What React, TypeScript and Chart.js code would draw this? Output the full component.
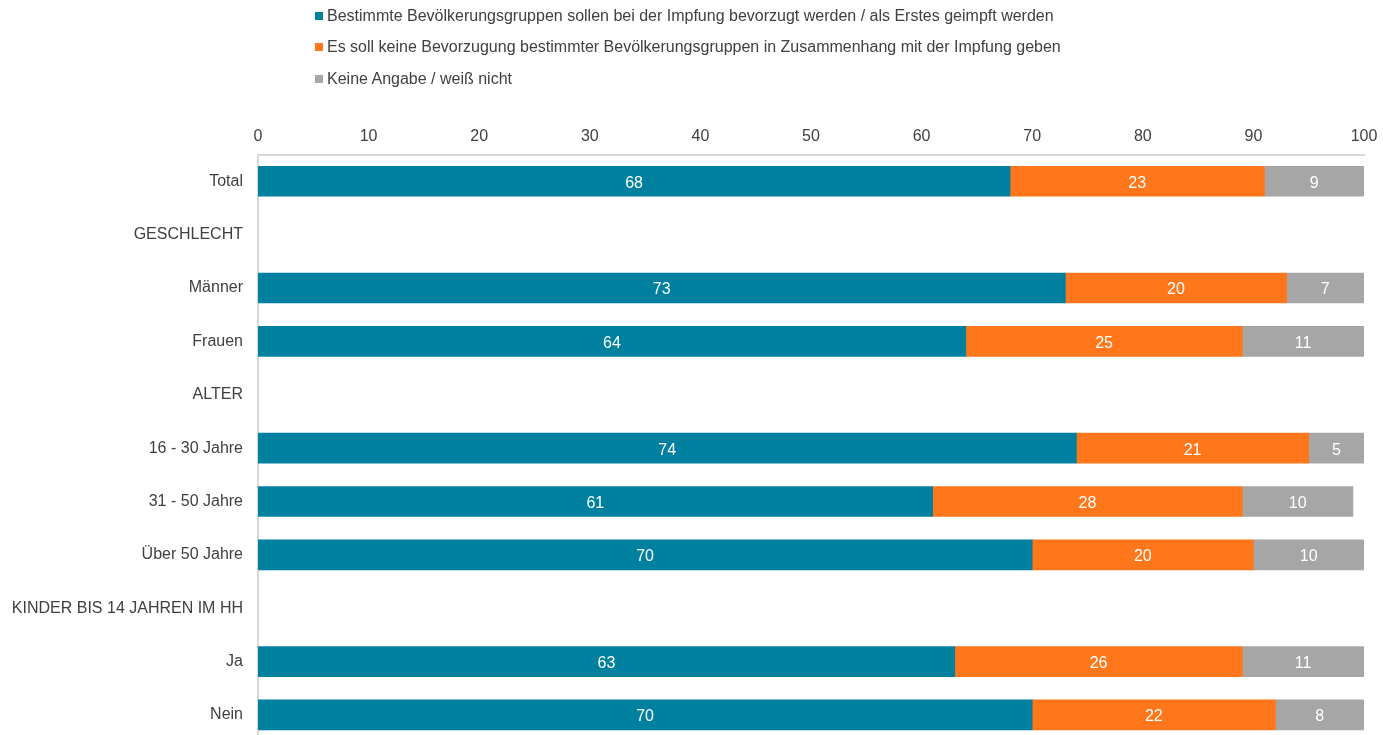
import React, { useEffect, useRef } from "react";
import { Chart, registerables } from "chart.js";

Chart.register(...registerables);

const categories = [
  "Total",
  "GESCHLECHT",
  "Männer",
  "Frauen",
  "ALTER",
  "16 - 30 Jahre",
  "31 - 50 Jahre",
  "Über 50 Jahre",
  "KINDER BIS 14 JAHREN IM HH",
  "Ja",
  "Nein",
];

const seriesNames = [
  "Bestimmte Bevölkerungsgruppen sollen bei der Impfung bevorzugt werden / als Erstes geimpft werden",
  "Es soll keine Bevorzugung bestimmter Bevölkerungsgruppen in Zusammenhang mit der Impfung geben",
  "Keine Angabe / weiß nicht",
];

const seriesBevorzugt = [68, null, 73, 64, null, 74, 61, 70, null, 63, 70];
const seriesKeineBevorzugung = [23, null, 20, 25, null, 21, 28, 20, null, 26, 22];
const seriesWeissNicht = [9, null, 7, 11, null, 5, 10, 10, null, 11, 8];

const xTicks = [0, 10, 20, 30, 40, 50, 60, 70, 80, 90, 100];

const colors = ["#00809F", "#FF761B", "#A6A6A6"];

const FONT = "'Liberation Sans', Arial, sans-serif";
const TEXT = "#404040";

const labelPlugin = {
  id: "segLabels",
  afterDatasetsDraw(chart: any) {
    const ctx = chart.ctx;
    ctx.save();
    ctx.font = `16px ${FONT}`;
    ctx.fillStyle = "#ffffff";
    ctx.textAlign = "center";
    ctx.textBaseline = "middle";
    chart.data.datasets.forEach((ds: any, di: number) => {
      const meta = chart.getDatasetMeta(di);
      meta.data.forEach((el: any, i: number) => {
        const v = ds.data[i];
        if (v === null || v === undefined) return;
        const p = el.getProps(["x", "y", "base"], true);
        ctx.fillText(String(v), (p.x + p.base) / 2, p.y + 2);
      });
    });
    ctx.restore();
  },
};

export default function App() {
  const ref = useRef<HTMLCanvasElement | null>(null);

  useEffect(() => {
    if (!ref.current) return;
    const chart = new Chart(ref.current, {
      type: "bar",
      data: {
        labels: categories,
        datasets: [
          { label: seriesNames[0], data: seriesBevorzugt, backgroundColor: colors[0] },
          { label: seriesNames[1], data: seriesKeineBevorzugung, backgroundColor: colors[1] },
          { label: seriesNames[2], data: seriesWeissNicht, backgroundColor: colors[2] },
        ] as any,
      },
      options: {
        indexAxis: "y",
        animation: false,
        responsive: false,
        maintainAspectRatio: false,
        layout: { padding: { top: 0, right: 19, bottom: 3.4, left: 0 } },
        datasets: { bar: { barThickness: 30, borderWidth: 0 } } as any,
        plugins: {
          legend: { display: false },
          tooltip: { enabled: false },
        },
        scales: {
          x: {
            position: "top",
            stacked: true,
            min: 0,
            max: 100,
            afterBuildTicks: (s: any) => {
              s.ticks = xTicks.map((v) => ({ value: v }));
            },
            afterFit: (s: any) => {
              s.height = 154.6;
              s.paddingLeft = 0;
              s.paddingRight = 0;
            },
            grid: { display: false, drawTicks: false },
            border: { display: true, color: "#D9D9D9", width: 2 },
            ticks: {
              padding: 8,
              color: TEXT,
              font: { family: FONT, size: 16 },
              maxRotation: 0,
            },
          },
          y: {
            stacked: true,
            afterFit: (s: any) => {
              s.width = 258;
              s.paddingTop = 0;
              s.paddingBottom = 0;
            },
            grid: { display: false, drawTicks: false },
            border: { display: true, color: "#D9D9D9", width: 2 },
            ticks: {
              padding: 15,
              color: TEXT,
              font: { family: FONT, size: 16, lineHeight: 1.32 },
              autoSkip: false,
            },
          },
        },
      } as any,
      plugins: [labelPlugin],
    });
    return () => chart.destroy();
  }, []);

  const legendRows = [15, 46, 78];

  return (
    <div style={{ position: "absolute", left: 0, top: 0, width: 1383, height: 735, overflow: "hidden" }}>
      <canvas ref={ref} width={1383} height={745} style={{ position: "absolute", left: 0, top: 0 }} />
      {seriesNames.map((name, i) => (
        <div
          key={i}
          style={{
            position: "absolute",
            left: 315,
            top: legendRows[i] - 9,
            height: 20,
            display: "flex",
            alignItems: "center",
            fontFamily: FONT,
            fontSize: 16,
            color: TEXT,
            whiteSpace: "nowrap",
          }}
        >
          <span style={{ display: "inline-block", width: 8, height: 8, background: colors[i], marginRight: 4 }} />
          <span>{name}</span>
        </div>
      ))}
    </div>
  );
}
